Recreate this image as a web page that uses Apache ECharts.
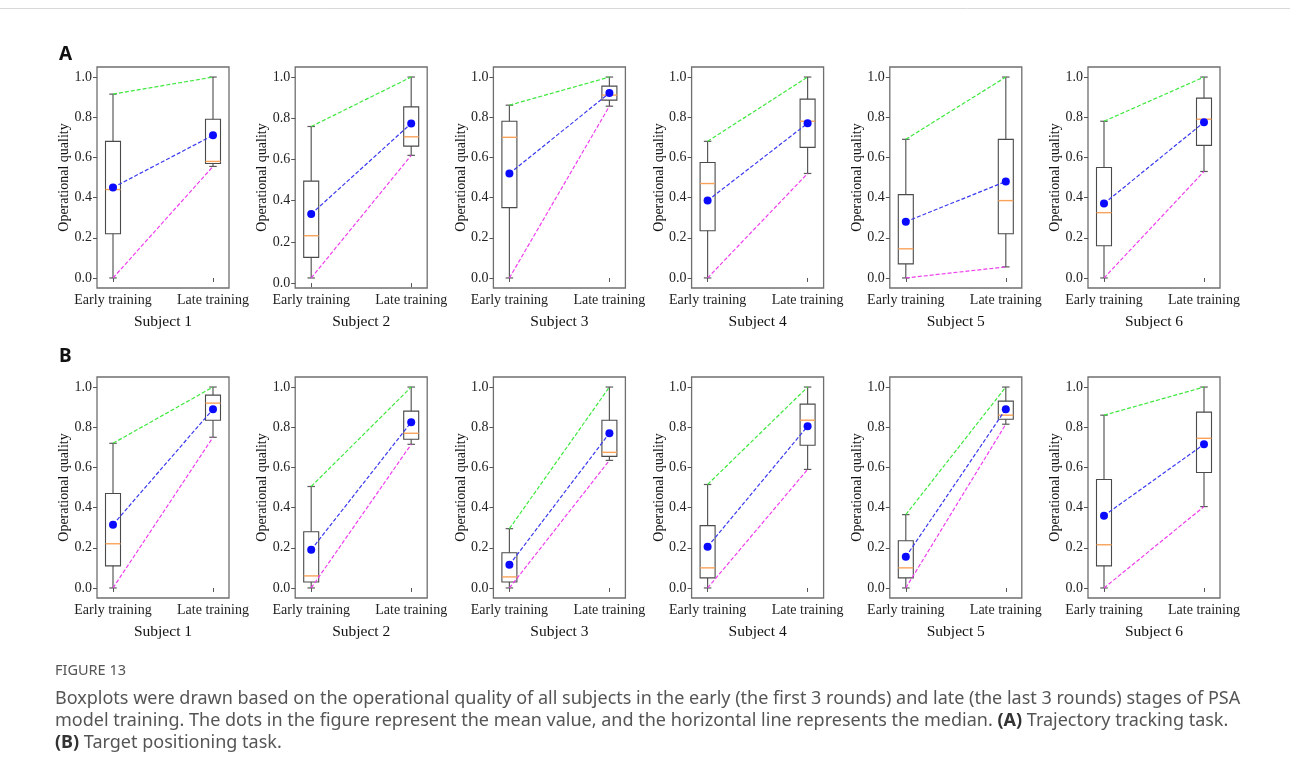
<!DOCTYPE html>
<html><head><meta charset="utf-8">
<script src="https://cdn.jsdelivr.net/npm/echarts@6/dist/echarts.min.js"></script>
<style>html,body{margin:0;padding:0;background:#fff}#c{width:1290px;height:776px}</style>
</head><body><div id="c"></div>
<script>
// ---- data: each tuple = [min, q1, median, q3, max, mean] ----
const categories = ['Early training', 'Late training'];
const subjects = ['Subject 1', 'Subject 2', 'Subject 3', 'Subject 4', 'Subject 5', 'Subject 6'];
const yTicks = [0, 0.2, 0.4, 0.6, 0.8, 1.0];
const panelLetters = ['A', 'B'];

const trackingEarly = [
  [0.000, 0.220, 0.440, 0.680, 0.915, 0.450],
  [0.025, 0.125, 0.230, 0.495, 0.760, 0.335],
  [0.000, 0.350, 0.700, 0.780, 0.860, 0.520],
  [0.000, 0.235, 0.470, 0.575, 0.680, 0.385],
  [0.000, 0.070, 0.145, 0.415, 0.690, 0.280],
  [0.000, 0.160, 0.325, 0.550, 0.780, 0.370]
];
const trackingLate = [
  [0.555, 0.570, 0.580, 0.790, 1.000, 0.710],
  [0.620, 0.665, 0.710, 0.855, 1.000, 0.775],
  [0.855, 0.885, 0.910, 0.955, 1.000, 0.920],
  [0.520, 0.650, 0.780, 0.890, 1.000, 0.770],
  [0.055, 0.220, 0.385, 0.690, 1.000, 0.480],
  [0.530, 0.660, 0.790, 0.895, 1.000, 0.775]
];
const positioningEarly = [
  [0.000, 0.110, 0.220, 0.470, 0.720, 0.315],
  [0.000, 0.030, 0.060, 0.280, 0.505, 0.190],
  [0.000, 0.030, 0.055, 0.175, 0.295, 0.115],
  [0.000, 0.050, 0.100, 0.310, 0.515, 0.205],
  [0.000, 0.050, 0.100, 0.235, 0.365, 0.155],
  [0.000, 0.110, 0.215, 0.540, 0.860, 0.360]
];
const positioningLate = [
  [0.750, 0.835, 0.920, 0.960, 1.000, 0.890],
  [0.715, 0.740, 0.770, 0.880, 1.000, 0.825],
  [0.635, 0.655, 0.675, 0.835, 1.000, 0.770],
  [0.590, 0.710, 0.835, 0.915, 1.000, 0.805],
  [0.815, 0.840, 0.860, 0.930, 1.000, 0.890],
  [0.405, 0.575, 0.745, 0.875, 1.000, 0.715]
];

const captionTitle = 'FIGURE 13';
const captionLine1 = 'Boxplots were drawn based on the operational quality of all subjects in the early (the first 3 rounds) and late (the last 3 rounds) stages of PSA';
const captionLine2a = 'model training. The dots in the figure represent the mean value, and the horizontal line represents the median. ';
const captionLine2b = '(A)';
const captionLine2c = ' Trajectory tracking task.';
const captionLine3a = '(B)';
const captionLine3b = ' Target positioning task.';

// ---- build ----
const SERIF = '"Liberation Serif", "DejaVu Serif", serif';
const chart = echarts.init(document.getElementById('c'), null, {renderer: 'canvas'});
const grids = [], xAxes = [], yAxes = [], series = [];
const rows = [
  {early: trackingEarly, late: trackingLate, top: 67},
  {early: positioningEarly, late: positioningLate, top: 377}
];
const BOX_W = 0.15;

rows.forEach((row, r) => {
  for (let i = 0; i < 6; i++) {
    const idx = r * 6 + i;
    const left = 97 + i * 198.2;
    const e = row.early[i], l = row.late[i];
    const dmin = Math.min(e[0], l[0]), dmax = Math.max(e[4], l[4]);
    const pad = 0.05 * (dmax - dmin);
    grids.push({left: left, top: row.top, width: 132, height: 221, show: true,
      borderColor: '#6f6f6f', borderWidth: 1.3, backgroundColor: 'transparent'});
    xAxes.push({
      type: 'value', gridIndex: idx, min: 0.84, max: 2.16,
      splitLine: {show: false}, axisLine: {show: false},
      axisTick: {show: true, customValues: [1, 2], length: 4, lineStyle: {color: '#555'}},
      axisLabel: {show: true, customValues: [1, 2], formatter: v => categories[Math.round(v) - 1],
        fontFamily: SERIF, fontSize: 14, color: '#222', margin: 5},
      name: subjects[i], nameLocation: 'middle', nameGap: 26, nameMoveOverlap: false,
      nameTextStyle: {fontFamily: SERIF, fontSize: 15.5, color: '#111'}
    });
    yAxes.push({
      type: 'value', gridIndex: idx, min: dmin - pad, max: dmax + pad,
      splitLine: {show: false}, axisLine: {show: false},
      axisTick: {show: true, customValues: yTicks, length: 4, lineStyle: {color: '#555'}},
      axisLabel: {show: true, customValues: yTicks, formatter: v => v.toFixed(1),
        fontFamily: SERIF, fontSize: 14, color: '#222', margin: 5},
      name: 'Operational quality', nameLocation: 'middle', nameGap: 25.5, nameRotate: 90,
      nameMoveOverlap: false,
      nameTextStyle: {fontFamily: SERIF, fontSize: 14, color: '#111'}
    });
    series.push({
      type: 'custom', xAxisIndex: idx, yAxisIndex: idx, z: 2,
      data: [[1, e[0], e[1], e[2], e[3], e[4]], [2, l[0], l[1], l[2], l[3], l[4]]],
      renderItem: function (params, api) {
        const x = api.value(0);
        const pMin = api.coord([x, api.value(1)]);
        const pQ1 = api.coord([x, api.value(2)]);
        const pMed = api.coord([x, api.value(3)]);
        const pQ3 = api.coord([x, api.value(4)]);
        const pMax = api.coord([x, api.value(5)]);
        const bw = api.size([BOX_W, 0])[0];
        const cx = pMin[0];
        const wStyle = {stroke: '#5a5a5a', lineWidth: 1.2, fill: null};
        return {type: 'group', children: [
          {type: 'line', shape: {x1: cx, y1: pMin[1], x2: cx, y2: pQ1[1]}, style: wStyle},
          {type: 'line', shape: {x1: cx, y1: pQ3[1], x2: cx, y2: pMax[1]}, style: wStyle},
          {type: 'line', shape: {x1: cx - bw / 4, y1: pMin[1], x2: cx + bw / 4, y2: pMin[1]}, style: wStyle},
          {type: 'line', shape: {x1: cx - bw / 4, y1: pMax[1], x2: cx + bw / 4, y2: pMax[1]}, style: wStyle},
          {type: 'rect', shape: {x: cx - bw / 2, y: pQ3[1], width: bw, height: pQ1[1] - pQ3[1]},
            style: {stroke: '#4a4a4a', lineWidth: 1.1, fill: null}},
          {type: 'line', shape: {x1: cx - bw / 2, y1: pMed[1], x2: cx + bw / 2, y2: pMed[1]},
            style: {stroke: '#f9a25a', lineWidth: 1.4}}
        ]};
      }
    });
    const dash = [4, 2];
    series.push({type: 'line', xAxisIndex: idx, yAxisIndex: idx, z: 3, symbol: 'none', silent: true,
      data: [[1, e[4]], [2, l[4]]], lineStyle: {color: '#3ee83e', width: 1.2, type: dash}});
    series.push({type: 'line', xAxisIndex: idx, yAxisIndex: idx, z: 3, symbol: 'none', silent: true,
      data: [[1, e[0]], [2, l[0]]], lineStyle: {color: '#ee3fee', width: 1.2, type: dash}});
    series.push({type: 'line', xAxisIndex: idx, yAxisIndex: idx, z: 4, symbol: 'circle', symbolSize: 8,
      showSymbol: true, silent: true,
      data: [[1, e[5]], [2, l[5]]], itemStyle: {color: '#0a0aff', borderWidth: 0},
      lineStyle: {color: '#3a3aee', width: 1.2, type: dash}});
  }
});

const CAP_FONT = '"Noto Sans", "Open Sans", sans-serif';
const capN = {font: '18px ' + CAP_FONT, fill: '#555'};
const capB = {font: 'bold 18px ' + CAP_FONT, fill: '#333'};
const graphic = [
  {type: 'line', shape: {x1: 0, y1: 8.5, x2: 1290, y2: 8.5}, style: {stroke: '#d8d8d8', lineWidth: 1}},
  {type: 'text', left: 59, top: 45, style: {text: panelLetters[0], font: 'bold 19px ' + CAP_FONT, fill: '#111'}},
  {type: 'text', left: 59, top: 347, style: {text: panelLetters[1], font: 'bold 19px ' + CAP_FONT, fill: '#111'}},
  {type: 'text', left: 55, top: 663, style: {text: captionTitle, font: '14.5px ' + CAP_FONT, fill: '#555'}},
  {type: 'text', left: 55, top: 690, style: {text: captionLine1, font: '18px ' + CAP_FONT, fill: '#555'}},
  {type: 'text', left: 55, top: 712, style: {
    text: '{n|' + captionLine2a + '}{b|' + captionLine2b + '}{n|' + captionLine2c + '}',
    rich: {n: capN, b: capB}}},
  {type: 'text', left: 55, top: 734, style: {
    text: '{b|' + captionLine3a + '}{n|' + captionLine3b + '}',
    rich: {n: capN, b: capB}}}
];

chart.setOption({
  animation: false,
  backgroundColor: '#fff',
  grid: grids, xAxis: xAxes, yAxis: yAxes, series: series, graphic: graphic
});
</script></body></html>
